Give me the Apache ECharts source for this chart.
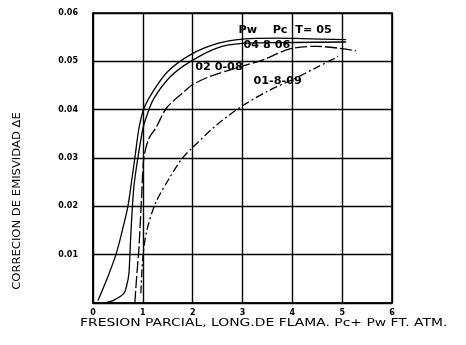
<!DOCTYPE html>
<html>
<head>
<meta charset="utf-8">
<script src="https://cdn.jsdelivr.net/npm/echarts@6/dist/echarts.min.js"></script>
<style>
html,body{margin:0;padding:0;background:#fff;}
#c{width:466px;height:345px;}
</style>
</head>
<body>
<div id="c"></div>
<script>
// ---- data ----
var xTickLabels = ['0', '1', '2', '3', '4', '5', '6'];
var yTickLabels = ['', '0.01', '0.02', '0.03', '0.04', '0.05', '0.06'];
var curveLabels = ['Pw    Pc  T= 05', '04 8 06', '02 0-08', '01-8-09'];
var curveLabelAt = [[2.92, 0.0565], [3.02, 0.0532], [2.05, 0.0487], [3.22, 0.0459]];

var serT05 = [[0.1,0.0005],[0.3,0.0055],[0.46,0.0100],[0.6,0.0155],[0.7,0.0200],[0.78,0.0256],
  [0.84,0.0300],[0.92,0.0360],[1.02,0.0402],[1.2,0.0437],[1.5,0.0479],[1.96,0.0514],
  [2.5,0.0537],[3.0,0.0546],[3.7,0.0548],[4.2,0.0547],[5.08,0.0545]];
var serP46 = [[0.24,0.0],[0.42,0.0006],[0.62,0.0020],[0.68,0.0038],[0.72,0.0060],[0.74,0.0100],
  [0.77,0.0163],[0.82,0.0240],[0.9,0.0300],[1.0,0.0360],[1.08,0.0388],[1.22,0.0423],
  [1.56,0.0469],[1.96,0.0500],[2.5,0.0528],[3.0,0.0537],[4.0,0.0539],[5.08,0.0540]];
var serP28 = [[0.84,0.0],[0.88,0.0060],[0.92,0.0110],[0.98,0.0230],[1.02,0.0300],[1.12,0.0340],
  [1.26,0.0362],[1.48,0.0404],[1.86,0.0440],[2.0,0.0452],[2.38,0.0470],[3.0,0.0490],
  [3.46,0.0505],[3.95,0.0526],[4.5,0.0531],[5.28,0.0522]];
var serP19 = [[0.96,0.0020],[1.0,0.0094],[1.08,0.0150],[1.26,0.0208],[1.52,0.0256],[1.78,0.0298],
  [2.0,0.0322],[2.5,0.0370],[3.0,0.0408],[3.5,0.0438],[4.0,0.0462],[4.5,0.0488],[4.92,0.0510]];

var xName = 'FRESION PARCIAL, LONG.DE FLAMA. Pc+ Pw FT. ATM.';
var yName = 'CORRECION DE EMISVIDAD \u0394E';

var chart = echarts.init(document.getElementById('c'), null, {renderer: 'canvas'});
var F = 'DejaVu Sans';
function line(data, dash) {
  return {
    type: 'line', data: data, smooth: 0.3, symbol: 'none',
    lineStyle: {color: '#000', width: 1.3, type: dash || 'solid'},
    animation: false
  };
}
chart.setOption({
  animation: false,
  grid: {left: 93, right: 74, top: 13, bottom: 42, show: true, borderColor: '#000', borderWidth: 1.6},
  xAxis: {
    type: 'value', min: 0, max: 6, interval: 1,
    axisLine: {lineStyle: {color: '#000', width: 1.6}},
    axisTick: {show: false},
    splitLine: {show: true, lineStyle: {color: '#000', width: 1.4}},
    axisLabel: {color: '#000', fontFamily: F, fontSize: 8, fontWeight: 'bold', margin: 6,
      formatter: function (v) { return xTickLabels[Math.round(v)]; }}
  },
  yAxis: {
    type: 'value', min: 0, max: 0.06, interval: 0.01,
    axisLine: {lineStyle: {color: '#000', width: 1.6}},
    axisTick: {show: false},
    splitLine: {show: true, lineStyle: {color: '#000', width: 1.4}},
    axisLabel: {color: '#000', fontFamily: F, fontSize: 8, fontWeight: 'bold', margin: 15,
      formatter: function (v) { return yTickLabels[Math.round(v * 100)]; }}
  },
  series: [line(serT05), line(serP46), line(serP28, [12, 3]), line(serP19, [8, 3, 2, 3])]
});

var g = [];
for (var i = 0; i < curveLabels.length; i++) {
  var p = chart.convertToPixel({gridIndex: 0}, curveLabelAt[i]);
  g.push({type: 'text', x: p[0], y: p[1], scaleX: 1.12, style: {text: curveLabels[i], fill: '#000',
    font: 'bold 10px ' + F, textAlign: 'left', textVerticalAlign: 'middle'}});
}
g.push({type: 'text', x: 80, y: 323, scaleX: 1.39, style: {text: xName, fill: '#000', font: '10px ' + F,
  textAlign: 'left', textVerticalAlign: 'middle'}});
g.push({type: 'text', x: 17, y: 201, rotation: Math.PI / 2, scaleX: 1.16, style: {text: yName, fill: '#000',
  font: '10px ' + F, textAlign: 'center', textVerticalAlign: 'middle'}});
chart.setOption({graphic: g});
</script>
</body>
</html>
